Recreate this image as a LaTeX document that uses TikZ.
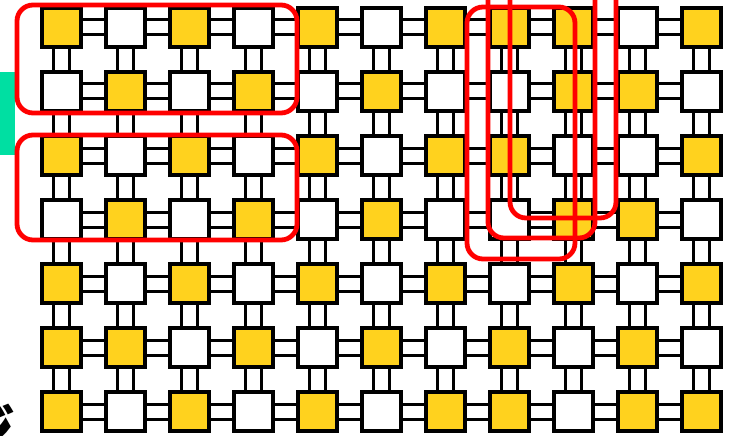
\documentclass[tikz,border=0pt]{standalone}
\usepackage{fontspec}
\newfontfamily\jpfont{Noto Sans CJK JP}
\definecolor{gold}{HTML}{FFD21E}
\definecolor{loop}{HTML}{FF0000}
\definecolor{mint}{HTML}{00DFA2}

\begin{document}
\begin{tikzpicture}[x=1pt,y=-1pt,
  tile/.style={draw=black,line width=3.8pt,minimum size=39.5pt,inner sep=0pt},
  t0/.style={tile,fill=white},
  t1/.style={tile,fill=gold},
  link/.style={draw=black,line width=3pt},
  grp/.style={draw=loop,line width=4.8pt,rounded corners=16pt}]
\clip (0,0) rectangle (729,436);
\fill[mint] (0,72) rectangle (15,155);
\node[font=\jpfont\bfseries\fontsize{56}{56}\selectfont,anchor=north east,inner sep=0pt] (mark) at (16,404) {ジ};
% tiles, row by row
\foreach \row [count=\j] in {{1,0,1,0,1,0,1,1,1,0,1},{0,1,0,1,0,1,0,0,1,1,0},
    {1,0,1,0,1,0,1,1,0,0,1},{0,1,0,1,0,1,0,0,1,1,0},{1,0,1,0,1,0,1,0,1,0,1},
    {1,1,0,1,0,1,0,1,0,1,0},{1,0,1,0,1,0,1,1,0,1,1}}
  \foreach \c [count=\i] in \row
    \node[t\c] (n-\i-\j) at ({61.5+64*(\i-1)},{27.5+64*(\j-1)}) {};
% double links
\foreach \j in {1,...,7}
  \foreach \i in {1,...,10} {
    \pgfmathtruncatemacro\k{\i+1}
    \draw[link] ([yshift=7.5pt]n-\i-\j.east) -- ([yshift=7.5pt]n-\k-\j.west);
    \draw[link] ([yshift=-7.5pt]n-\i-\j.east) -- ([yshift=-7.5pt]n-\k-\j.west);
  }
\foreach \j in {1,...,6}
  \foreach \i in {1,...,11} {
    \pgfmathtruncatemacro\k{\j+1}
    \draw[link] ([xshift=-8pt]n-\i-\j.south) -- ([xshift=-8pt]n-\i-\k.north);
    \draw[link] ([xshift=8pt]n-\i-\j.south) -- ([xshift=8pt]n-\i-\k.north);
  }
% groups
\draw[grp] (17,5) rectangle (297,113);
\draw[grp] (17,135) rectangle (297,240);
\draw[grp] (467,7) rectangle (575,259);
\draw[grp] (488,-30) rectangle (595,238);
\draw[grp] (510,-30) rectangle (616,218);
\end{tikzpicture}
\end{document}
